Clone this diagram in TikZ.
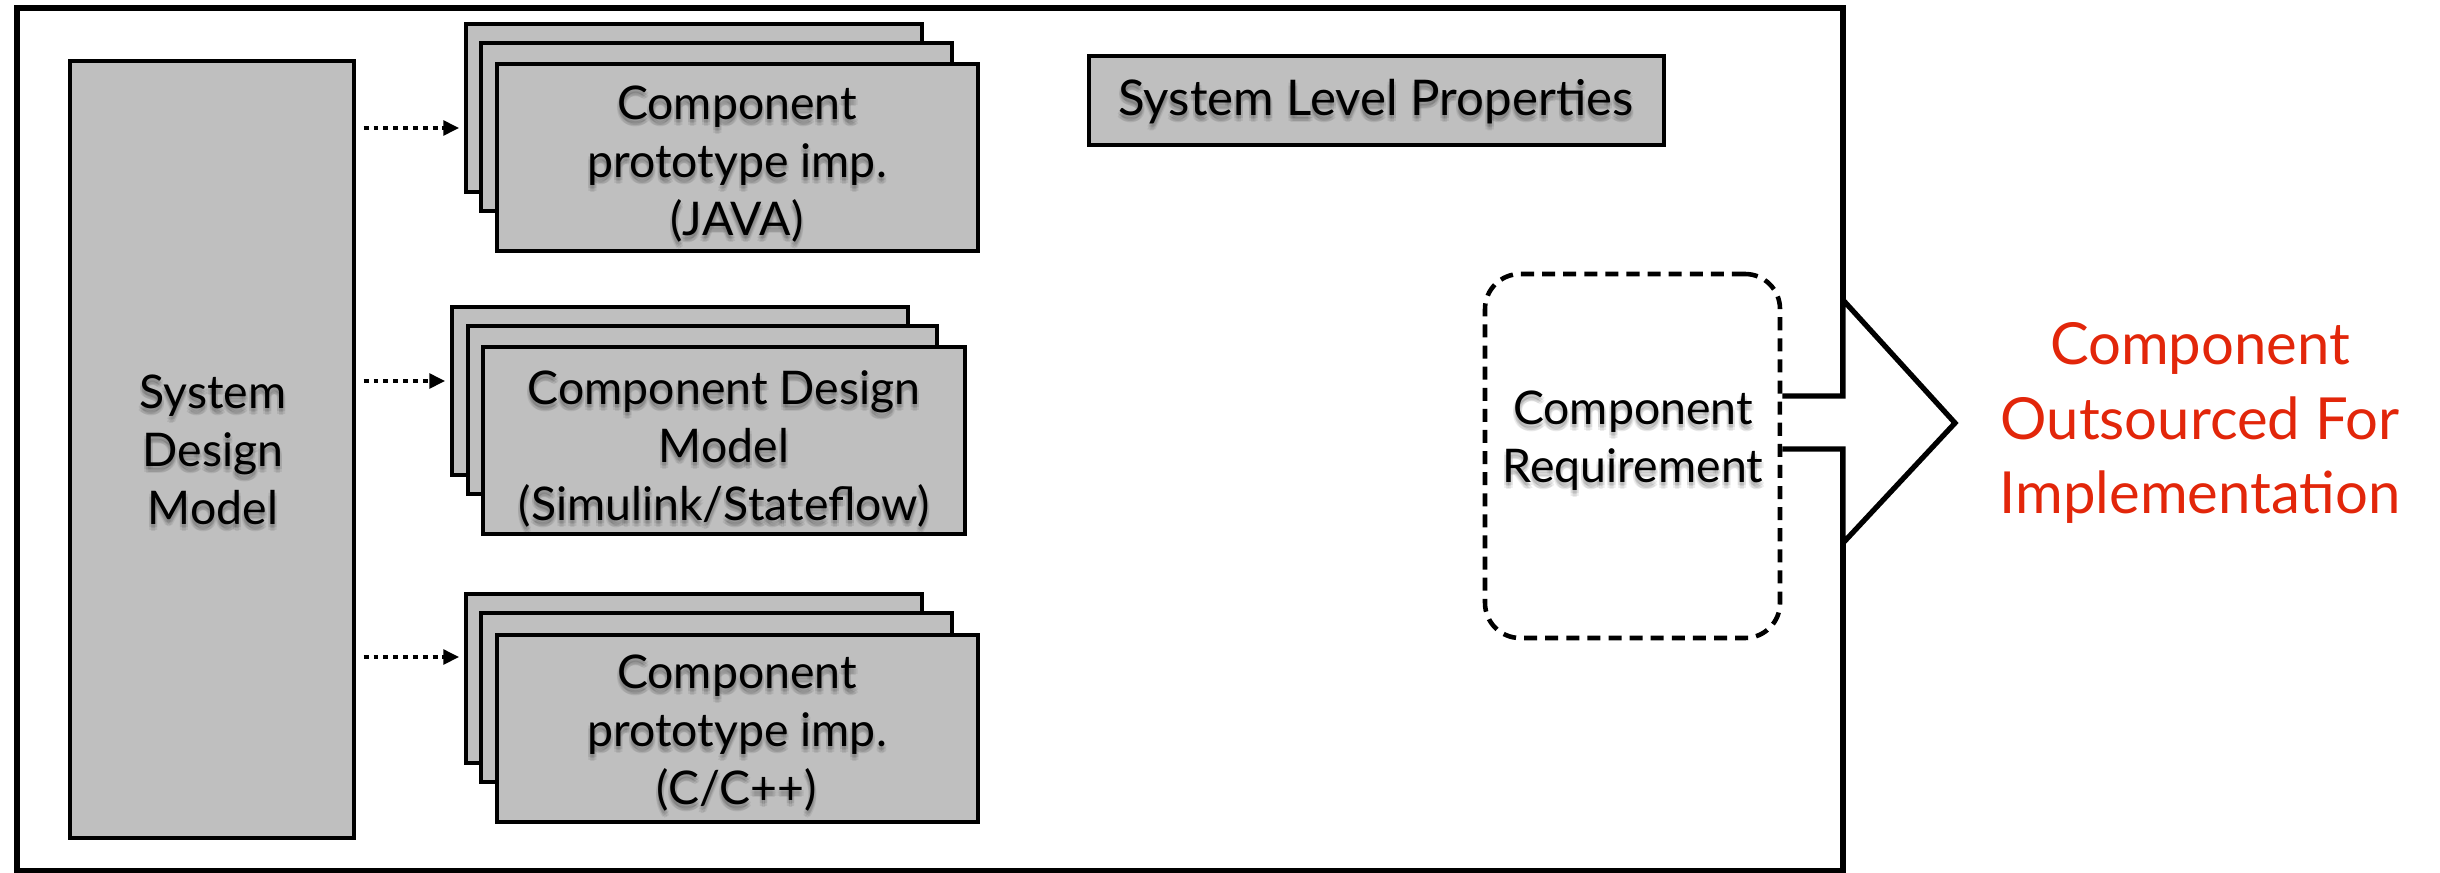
\documentclass[tikz,border=0pt]{standalone}
\usepackage{fontspec}
\setmainfont{Lato}
\usetikzlibrary{arrows.meta,fit}

\definecolor{boxgray}{RGB}{191,191,191}
\definecolor{outred}{RGB}{226,38,10}

% a label with a soft drop shadow: name, position, style, text
\newcommand\shadedlabel[4]{%
  \foreach \dx/\dy in {0/4,-2/3,2/3,-2/6,2/6,0/7}{%
    \node[#3, text=black, opacity=0.07] at ([shift={(\dx,\dy)}]#2) {#4};}%
  \node[#3] (#1) at (#2) {#4};}

\begin{document}
\begin{tikzpicture}[x=0.01cm,y=-0.01cm,
  box/.style={draw=black, fill=boxgray, line width=0.9pt, inner sep=0pt},
  lbl/.style={align=center, inner sep=0pt, font=\fontsize{13.2pt}{16.5pt}\selectfont},
  biglbl/.style={align=center, inner sep=0pt, font=\fontsize{14pt}{17pt}\selectfont},
  redlbl/.style={align=center, inner sep=0pt, text=outred, font=\fontsize{16.5pt}{21.3pt}\selectfont},
  dotarrow/.style={line width=0.9pt, dash pattern=on 1.4pt off 1.4pt,
    -{Triangle[length=4.5pt,width=4.2pt]}, shorten <=2.3pt, shorten >=1.5pt},
  reqbox/.style={draw=black, line width=1.3pt, dash pattern=on 3.7pt off 2.3pt,
    rounded corners=0.35cm, inner sep=0pt},
  outarrow/.style={draw=black, fill=white, line width=1.5pt, line join=miter}
]
\useasboundingbox (0,0) rectangle (2440,873);

% outer frame
\draw[line width=1.7pt] (17,8) rectangle (1843,871);

% system design model
\node[box, fit={(70,61) (354,838)}] (sdm) {};
\shadedlabel{sdmt}{213,450}{lbl}{System\\Design\\Model}

% JAVA prototype stack
\node[box, fit={(466,24) (922,192)}] (jb) {};
\node[box, fit={(481,43) (952,211)}] (jm) {};
\node[box, fit={(497,64) (978,251)}] (jf) {};
\shadedlabel{jt}{737,164}{lbl}{Component\\prototype imp.\\(JAVA)}

% Simulink/Stateflow design model stack
\node[box, fit={(452,307) (908,475)}] (sb) {};
\node[box, fit={(468,326) (937,494)}] (sm) {};
\node[box, fit={(483,347) (965,534)}] (sf) {};
\shadedlabel{st}{724,449}{lbl}{Component Design\\Model\\(Simulink/Stateflow)}

% C/C++ prototype stack
\node[box, fit={(466,594) (922,763)}] (cb) {};
\node[box, fit={(481,613) (952,782)}] (cm) {};
\node[box, fit={(497,635) (978,822)}] (cf) {};
\shadedlabel{ct}{737,733}{lbl}{Component\\prototype imp.\\(C/C++)}

% derivation arrows
\draw[dotarrow] (sdm.east |- 0,128) -- (jb.west |- 0,128);
\draw[dotarrow] (sdm.east |- 0,381) -- (sb.west |- 0,381);
\draw[dotarrow] (sdm.east |- 0,657) -- (cb.west |- 0,657);

% system level properties
\node[box, fit={(1089,56) (1664,145)}] (slp) {};
\shadedlabel{slpt}{1376,102}{biglbl}{System Level Properties}

% component requirement
\node[reqbox, fit={(1485,274) (1780,638)}] (req) {};
\shadedlabel{reqt}{1633,441}{lbl}{Component\\Requirement}

% outsourcing arrow
\draw[outarrow] (req.east |- 0,396) -- (1843,396) -- (1843,300) -- (1955,423)
  -- (1843,543) -- (1843,449) -- (req.east |- 0,449);

\node[redlbl] (out) at (2200,423) {Component\\Outsourced For\\Implementation};
\end{tikzpicture}
\end{document}
